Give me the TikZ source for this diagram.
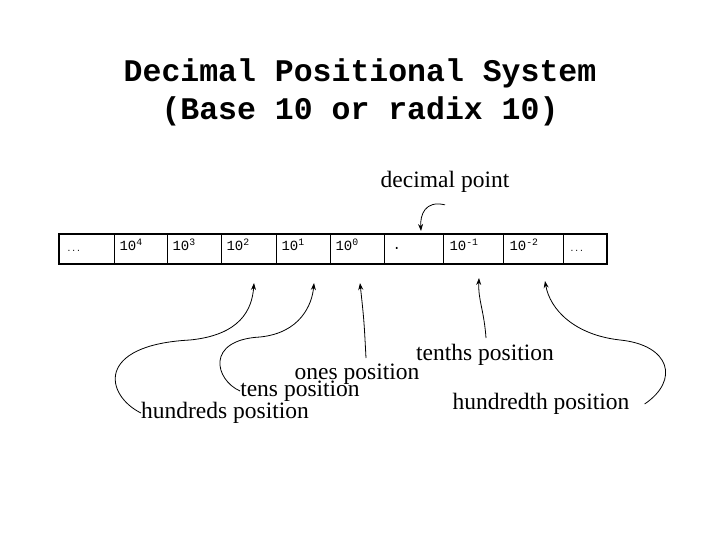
\documentclass[tikz,border=0pt]{standalone}
\usepackage{fontspec}
\setmainfont{Liberation Serif}
\setmonofont{Liberation Mono}
\usetikzlibrary{arrows.meta}
\tikzset{
  cella/.style={font=\ttfamily\fontsize{14}{14}\selectfont, anchor=west},
  etichetta/.style={font=\fontsize{23.5}{23.5}\selectfont, inner sep=0pt},
  freccia/.style={thick, -{Stealth[length=7pt,width=5pt]}}
}
\newcommand{\esp}[1]{10\textsuperscript{#1}}
\begin{document}
\begin{tikzpicture}[x=1pt, y=-1pt]
    \useasboundingbox (0,0) rectangle (720,540);

    % --- Titolo ---
    \node[font=\ttfamily\bfseries\fontsize{31.5}{38}\selectfont, align=center] (titolo) at (360,92)
    {Decimal Positional System\\(Base 10 or radix 10)};

    % --- Celle ---
    \draw[very thick] (59,234) rectangle (607,264);
    \foreach \x in {114,167,221,276,330,384,443,503,563}
      \draw[thick] (\x,234) -- (\x,264);

    \node[cella, font=\ttfamily\fontsize{8}{8}\selectfont] (c1) at (63,251) {...};
    \node[cella] (c2) at (116,245) {\esp{4}};
    \node[cella] (c3) at (169,245) {\esp{3}};
    \node[cella] (c4) at (223,245) {\esp{2}};
    \node[cella] (c5) at (278,245) {\esp{1}};
    \node[cella] (c6) at (332,245) {\esp{0}};
    \node[cella] (c7) at (389,248) {.};
    \node[cella] (c8) at (446,245) {\esp{-1}};
    \node[cella] (c9) at (506,245) {\esp{-2}};
    \node[cella, font=\ttfamily\fontsize{8}{8}\selectfont] (c10) at (566,251) {...};

    % --- Etichette ---
    \node[etichetta] (punto) at (445,182) {decimal point};
    \node[etichetta] (decimi) at (485,355) {tenths position};
    \node[etichetta] (unita) at (357,374) {ones position};
    \node[etichetta] (decine) at (300,391) {tens position};
    \node[etichetta] (centesimi) at (541,404) {hundredth position};
    \node[etichetta] (centinaia) at (225,413) {hundreds position};

    \coordinate (p1) at (254,283);
    \coordinate (p2) at (314,283);
    \coordinate (p3) at (360,283);
    \coordinate (p4) at (479,278);
    \coordinate (p5) at (545,281);
    \coordinate (p6) at (421,231);

    % --- Frecce ---
    \draw[freccia] (centinaia.west) .. controls (105,395) and (95,345) .. (190,340)
      .. controls (240,335) and (252,310) .. (p1);
    \draw[freccia] (decine.west) .. controls (215,380) and (205,340) .. (260,337)
      .. controls (300,333) and (312,305) .. (p2);
    \draw[freccia] (366,358) .. controls (364,320) .. (p3);
    \draw[freccia] (486,338) .. controls (484,310) and (478,300) .. (p4);
    \draw[freccia] (centesimi.east) ++(15,0) .. controls (680,380) and (670,345) .. (620,340)
      .. controls (575,335) and (550,310) .. (p5);
    \draw[freccia] (punto.south) ++(0,12) .. controls (425,200) and (420,215) .. (p6);

  \end{tikzpicture}
\end{document}
